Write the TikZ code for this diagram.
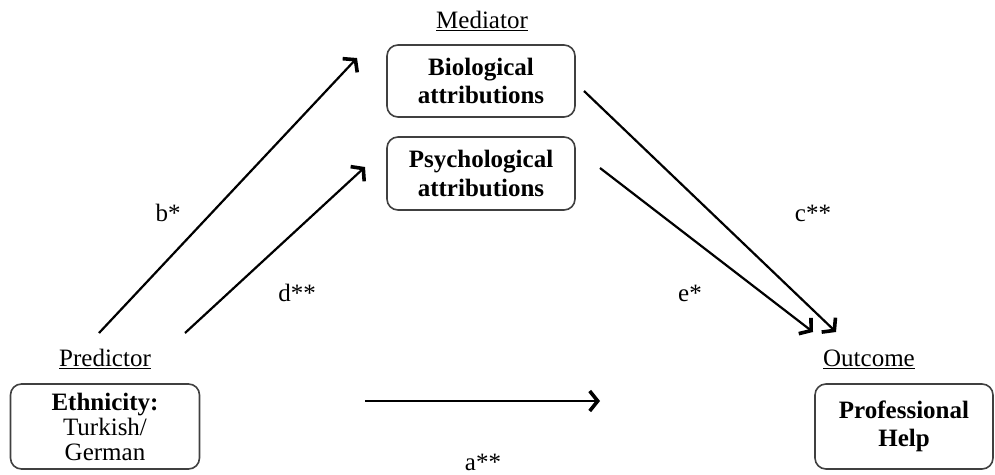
\documentclass[tikz,border=0pt]{standalone}
\usepackage{fontspec}
\setmainfont{Liberation Serif}
\usepackage{tikz}
\usetikzlibrary{arrows.meta}

\begin{document}
\begin{tikzpicture}[x=1pt,y=-1pt,
    every node/.style={font=\fontsize{25}{28.5}\selectfont},
    varbox/.style={draw=black!75,line width=1.6pt,rounded corners=11pt,align=center,inner sep=0pt},
    boldbox/.style={varbox,font=\fontsize{25}{28.5}\selectfont\bfseries},
    path/.style={line width=2.2pt,-{Straight Barb[length=8pt,width=20pt,line width=3.6pt]}}]
    \useasboundingbox (0,0) rectangle (995,474);
    % boxes
    \node[boldbox,minimum width=188pt,minimum height=72pt] (bio) at (481,81) {Biological\\attributions};
    \node[boldbox,minimum width=188pt,minimum height=73pt] (psy) at (481,173.5) {Psychological\\attributions};
    \node[varbox,minimum width=189pt,minimum height=85pt,font=\fontsize{25}{25}\selectfont] (eth) at (105,426.5) {\textbf{Ethnicity:}\\Turkish/\\German};
    \node[boldbox,minimum width=178pt,minimum height=85pt] (help) at (904,426.5) {Professional\\Help};
    % headings
    \node (med) at (482,21) {\underline{Mediator}};
    \node (pred) at (105,359) {\underline{Predictor}};
    \node (out) at (869,359) {\underline{Outcome}};
    % arrow ends
    \coordinate (b0) at (99,333);
    \coordinate (b1) at (357,58);
    \coordinate (d0) at (185,333);
    \coordinate (d1) at (365,167);
    \coordinate (c0) at (584,91);
    \coordinate (c1) at (836,332);
    \coordinate (e0) at (600,168);
    \coordinate (e1) at (813,332);
    \coordinate (a0) at (365,401);
    \coordinate (a1) at (600,401);
    \draw[path] (b0) to (b1);
    \draw[path] (d0) to (d1);
    \draw[path] (c0) to (c1);
    \draw[path] (e0) to (e1);
    \draw[path] (a0) to (a1);
    % labels
    \node at (168,213) {b*};
    \node at (297,293) {d**};
    \node at (813,213) {c**};
    \node at (690,293) {e*};
    \node at (483,462) {a**};
  \end{tikzpicture}
\end{document}
